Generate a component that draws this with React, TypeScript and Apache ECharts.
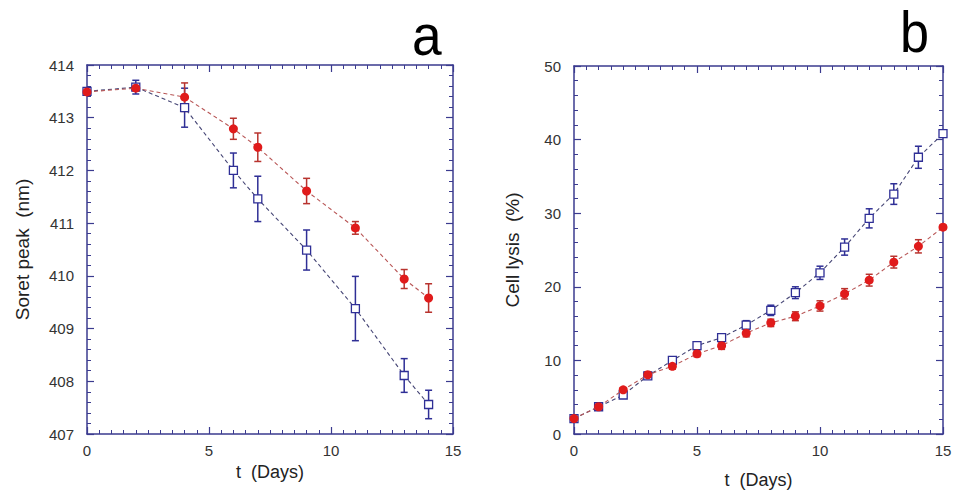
import React, { useEffect, useRef } from "react";
import * as echarts from "echarts";

const daysA = [0, 2, 4, 6, 7, 9, 11, 13, 14];
const soretRed = [413.49, 413.56, 413.39, 412.79, 412.44, 411.61, 410.91, 409.94, 409.58];
const soretRedErr = [0.03, 0.05, 0.27, 0.2, 0.27, 0.24, 0.12, 0.18, 0.27];
const soretBlue = [413.5, 413.58, 413.19, 412.0, 411.46, 410.49, 409.38, 408.11, 407.56];
const soretBlueErr = [0.03, 0.13, 0.37, 0.33, 0.43, 0.38, 0.61, 0.32, 0.27];

const daysB = [0, 1, 2, 3, 4, 5, 6, 7, 8, 9, 10, 11, 12, 13, 14, 15];
const lysisRed = [2.1, 3.7, 6.0, 8.05, 9.2, 10.9, 12.0, 13.7, 15.1, 16.0, 17.4, 19.05, 20.9, 23.35, 25.5, 28.1];
const lysisRedErr = [0.2, 0.2, 0.3, 0.4, 0.4, 0.4, 0.5, 0.5, 0.5, 0.6, 0.7, 0.7, 0.8, 0.8, 0.9, 0.3];
const lysisBlue = [2.1, 3.7, 5.3, 7.9, 10.0, 12.0, 13.1, 14.8, 16.8, 19.2, 21.9, 25.4, 29.3, 32.6, 37.6, 40.8];
const lysisBlueErr = [0.2, 0.2, 0.3, 0.4, 0.4, 0.5, 0.5, 0.6, 0.7, 0.8, 0.9, 1.1, 1.3, 1.4, 1.5, 0.3];

const titleA = "Soret peak  (nm)";
const titleB = "Cell lysis  (%)";
const xTitle = "t  (Days)";

const FONT = "Liberation Sans, Arial, sans-serif";
const AXIS = "#3b3b8f";
const RED = "#e01b1b";
const RED_ERR = "#b8332e";
const RED_LINE = "#b85656";
const BLUE = "#2f2f96";
const BLUE_LINE = "#454575";

function pairs(xs: number[], ys: number[]) {
  return xs.map((x, i) => [x, ys[i]]);
}
function errData(xs: number[], ys: number[], es: number[]) {
  return xs.map((x, i) => [x, ys[i] - es[i], ys[i] + es[i]]);
}

function errSeries(data: number[][], color: string, xi: number, yi: number) {
  return {
    type: "custom",
    xAxisIndex: xi,
    yAxisIndex: yi,
    clip: false,
    z: 3,
    encode: { x: 0, y: [1, 2] },
    data,
    renderItem: (params: any, api: any) => {
      const x = api.value(0);
      const lo = api.value(1);
      const hi = api.value(2);
      const p1 = api.coord([x, hi]);
      const p2 = api.coord([x, lo]);
      const w = 3.5;
      const st = { stroke: color, lineWidth: 1.5 };
      return {
        type: "group",
        children: [
          { type: "line", shape: { x1: p1[0], y1: p1[1], x2: p2[0], y2: p2[1] }, style: st },
          { type: "line", shape: { x1: p1[0] - w, y1: p1[1], x2: p1[0] + w, y2: p1[1] }, style: st },
          { type: "line", shape: { x1: p2[0] - w, y1: p2[1], x2: p2[0] + w, y2: p2[1] }, style: st },
        ],
      };
    },
  };
}

function xAxisDef(grid: number, top: boolean, nameGap: number) {
  return {
    type: "value",
    gridIndex: grid,
    position: top ? "top" : "bottom",
    min: 0,
    max: 15,
    interval: 5,
    name: top ? "" : xTitle,
    nameLocation: "middle",
    nameGap,
    nameTextStyle: { fontFamily: FONT, fontSize: 18, color: "#222" },
    axisLine: { show: true, onZero: false, lineStyle: { color: AXIS, width: 1.5 } },
    axisTick: { show: true, inside: true, length: 7, lineStyle: { color: AXIS, width: 1.2 } },
    minorTick: { show: true, splitNumber: 10, length: 4, lineStyle: { color: AXIS, width: 1 } },
    axisLabel: { show: !top, margin: 9, fontFamily: FONT, fontSize: 15, color: "#333" },
    splitLine: { show: false },
  };
}

function yAxisDef(grid: number, right: boolean, min: number, max: number, interval: number, name: string, nameGap: number) {
  return {
    type: "value",
    gridIndex: grid,
    position: right ? "right" : "left",
    min,
    max,
    interval,
    name: right ? "" : name,
    nameLocation: "middle",
    nameRotate: 90,
    nameGap,
    nameTextStyle: { fontFamily: FONT, fontSize: 19, color: "#222" },
    axisLine: { show: true, onZero: false, lineStyle: { color: AXIS, width: 1.5 } },
    axisTick: { show: true, inside: true, length: 7, lineStyle: { color: AXIS, width: 1.2 } },
    minorTick: { show: true, splitNumber: 5, length: 4, lineStyle: { color: AXIS, width: 1 } },
    axisLabel: { show: !right, margin: 13, fontFamily: FONT, fontSize: 15, color: "#333" },
    splitLine: { show: false },
  };
}

function lineSeries(data: number[][], xi: number, yi: number, kind: "red" | "blue") {
  const red = kind === "red";
  return {
    type: "line",
    xAxisIndex: xi,
    yAxisIndex: yi,
    data,
    clip: false,
    z: red ? 5 : 4,
    symbol: red ? "circle" : "rect",
    symbolSize: red ? 9 : 8,
    itemStyle: red
      ? { color: RED, borderColor: RED, borderWidth: 0 }
      : { color: "#ffffff", borderColor: BLUE, borderWidth: 1.3 },
    lineStyle: { color: red ? RED_LINE : BLUE_LINE, width: 1.1, type: [4, 3] },
  };
}

export default function App() {
  const ref = useRef<HTMLDivElement>(null);
  useEffect(() => {
    if (!ref.current) return;
    const chart = echarts.init(ref.current, undefined, { renderer: "svg" });
    chart.setOption({
      animation: false,
      backgroundColor: "#ffffff",
      grid: [
        { left: 87, top: 65, width: 366, height: 369, containLabel: false, outerBoundsMode: "none" },
        { left: 574, top: 66, width: 369, height: 368, containLabel: false, outerBoundsMode: "none" },
      ],
      xAxis: [
        xAxisDef(0, false, 21),
        xAxisDef(0, true, 0),
        xAxisDef(1, false, 37),
        xAxisDef(1, true, 0),
      ],
      yAxis: [
        yAxisDef(0, false, 407, 414, 1, titleA, 55),
        yAxisDef(0, true, 407, 414, 1, "", 0),
        yAxisDef(1, false, 0, 50, 10, titleB, 52),
        yAxisDef(1, true, 0, 50, 10, "", 0),
      ],
      graphic: [
        { type: "text", left: 412, top: 6, scaleX: 0.92, style: { text: "a", font: `58px ${FONT}`, fill: "#000" } },
        { type: "text", left: 900, top: 3, scaleX: 0.9, style: { text: "b", font: `58px ${FONT}`, fill: "#000" } },
      ],
      series: [
        errSeries(errData(daysA, soretBlue, soretBlueErr), BLUE, 0, 0),
        errSeries(errData(daysA, soretRed, soretRedErr), RED_ERR, 0, 0),
        lineSeries(pairs(daysA, soretBlue), 0, 0, "blue"),
        lineSeries(pairs(daysA, soretRed), 0, 0, "red"),
        errSeries(errData(daysB, lysisBlue, lysisBlueErr), BLUE, 2, 2),
        errSeries(errData(daysB, lysisRed, lysisRedErr), RED_ERR, 2, 2),
        lineSeries(pairs(daysB, lysisBlue), 2, 2, "blue"),
        lineSeries(pairs(daysB, lysisRed), 2, 2, "red"),
      ],
    });
    return () => chart.dispose();
  }, []);
  return <div ref={ref} style={{ position: "fixed", left: 0, top: 0, width: 957, height: 490 }} />;
}
